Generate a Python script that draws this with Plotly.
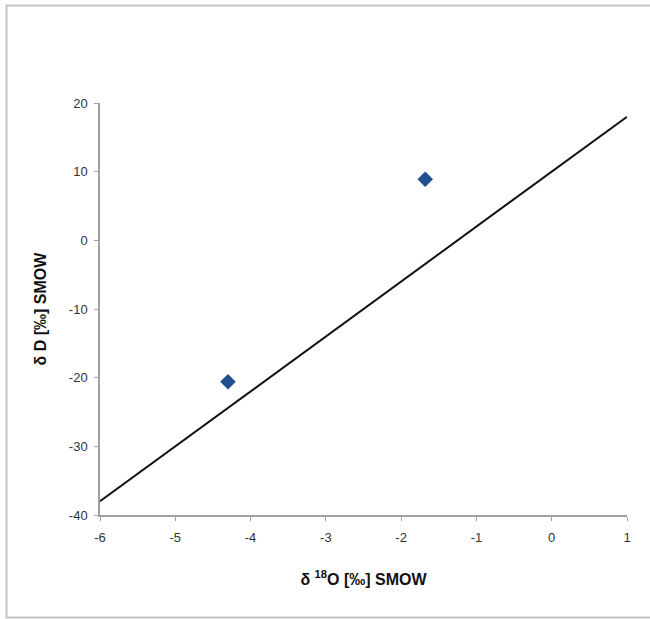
import plotly.graph_objects as go

# data
sample_d18O = [-4.3, -1.68]
sample_dD = [-20.6, 8.9]
gmwl_x = [-6, 1]
gmwl_y = [-38, 18]
x_ticks = [-6, -5, -4, -3, -2, -1, 0, 1]
y_ticks = [-40, -30, -20, -10, 0, 10, 20]

fig = go.Figure()
fig.add_trace(go.Scatter(x=gmwl_x, y=gmwl_y, mode="lines",
                         line=dict(color="#111111", width=2), showlegend=False,
                         cliponaxis=False))
fig.add_trace(go.Scatter(x=sample_d18O, y=sample_dD, mode="markers",
                         marker=dict(symbol="diamond", size=12, color="#1f4f8f"),
                         showlegend=False))

axis_common = dict(showgrid=False, zeroline=False, showline=True, linecolor="#a0a0a0",
                   linewidth=1.5, ticks="outside", ticklen=4, tickcolor="#a0a0a0",
                   tickfont=dict(family="Liberation Sans, Arial", size=13, color="#333333"))

fig.update_layout(
    width=650, height=619,
    margin=dict(l=100, r=23, t=103, b=104),
    paper_bgcolor="white", plot_bgcolor="white",
    xaxis=dict(range=[-6, 1], tickvals=x_ticks, ticktext=[str(v) for v in x_ticks],
               ticklabelstandoff=6,
               title=dict(text="<b>δ <sup style='font-size:11px'>18</sup>O [‰] SMOW</b>", standoff=29,
                          font=dict(family="Liberation Sans, Arial", size=16, color="#111111")),
               **axis_common),
    yaxis=dict(range=[-40, 20], tickvals=y_ticks, ticktext=[str(v) for v in y_ticks],
               ticklabelstandoff=4,
               title=dict(text="<b>δ D [‰] SMOW</b>", standoff=18,
                          font=dict(family="Liberation Sans, Arial", size=16, color="#111111")),
               **axis_common),
    shapes=[dict(type="rect", xref="paper", yref="paper",
                 x0=(6.5 - 100) / 527, x1=(655 - 100) / 527,
                 y0=(515 - 617.5) / 412, y1=(515 - 5.5) / 412,
                 line=dict(color="#c4c4c4", width=2), fillcolor="rgba(0,0,0,0)",
                 layer="below")],
)

fig.write_html("out.html")
